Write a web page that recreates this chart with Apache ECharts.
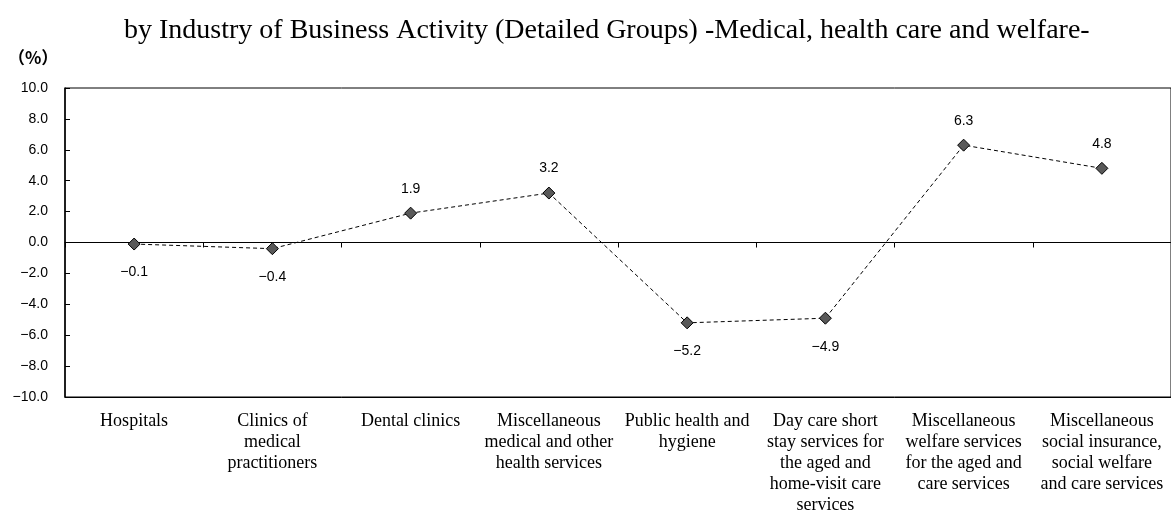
<!DOCTYPE html>
<html>
<head>
<meta charset="utf-8">
<script src="https://cdn.jsdelivr.net/npm/echarts@6/dist/echarts.min.js"></script>
<style>
  html, body { margin: 0; padding: 0; background: #fff; }
  #main { width: 1171px; height: 516px; }
</style>
</head>
<body>
<div id="main"></div>
<script>
// 業種（細分類）別 - 医療，福祉
var categories = [
  'Hospitals',
  'Clinics of\nmedical\npractitioners',
  'Dental clinics',
  'Miscellaneous\nmedical and other\nhealth services',
  'Public health and\nhygiene',
  'Day care short\nstay services for\nthe aged and\nhome-visit care\nservices',
  'Miscellaneous\nwelfare services\nfor the aged and\ncare services',
  'Miscellaneous\nsocial insurance,\nsocial welfare\nand care services'
];
var values = [-0.1, -0.4, 1.9, 3.2, -5.2, -4.9, 6.3, 4.8];
var yTicks = [-10, 10, 2];

var fmt = function (v) {
  return v.toFixed(1).replace('-', '\u2212');
};

var chart = echarts.init(document.getElementById('main'));
var option = {
  animation: false,
  title: {
    text: 'by Industry of Business Activity (Detailed Groups) -Medical, health care and welfare-',
    left: 119,
    top: 12,
    textStyle: { fontFamily: 'Liberation Serif', fontWeight: 'normal', fontSize: 28, color: '#000' }
  },
  graphic: [{
    type: 'text', left: 8, top: 49,
    style: { text: '（%）', font: 'bold 17px "Noto Sans CJK JP"', fill: '#000' }
  }],
  grid: {
    left: 65, right: 0, top: 88, bottom: 119,
    show: true, borderColor: '#000', borderWidth: 1
  },
  xAxis: [{
    type: 'category',
    data: categories,
    position: 'bottom',
    axisLine: { onZero: false, lineStyle: { color: '#000' } },
    axisTick: { show: false },
    axisLabel: {
      interval: 0, margin: 14, color: '#000',
      fontFamily: 'Liberation Serif', fontSize: 18, lineHeight: 21
    }
  }, {
    type: 'category',
    data: categories,
    position: 'top',
    axisLine: { onZero: true, lineStyle: { color: '#000' } },
    axisTick: { show: true, inside: true, length: 5, lineStyle: { color: '#000' } },
    axisLabel: { show: false }
  }],
  yAxis: {
    type: 'value',
    min: yTicks[0], max: yTicks[1], interval: yTicks[2],
    axisLine: { show: true, lineStyle: { color: '#000', width: 1.5 } },
    axisTick: { show: true, inside: true, length: 5, lineStyle: { color: '#000' } },
    splitLine: { show: false },
    axisLabel: {
      color: '#000', fontFamily: 'Liberation Sans', fontSize: 14, margin: 17,
      formatter: fmt
    }
  },
  series: [{
    type: 'line',
    data: values.map(function (v) {
      return {
        value: v,
        label: v >= 0 ? { position: 'top', distance: 11 } : { position: 'bottom', distance: 15 }
      };
    }),
    symbol: 'diamond',
    symbolSize: 12,
    itemStyle: { color: '#595959', borderColor: '#000', borderWidth: 1 },
    lineStyle: { color: '#000', width: 1, type: [4, 3] },
    label: {
      show: true, color: '#000',
      fontFamily: 'Liberation Sans', fontSize: 14,
      formatter: function (p) { return fmt(p.value); }
    }
  }]
};
chart.setOption(option);
</script>
</body>
</html>
